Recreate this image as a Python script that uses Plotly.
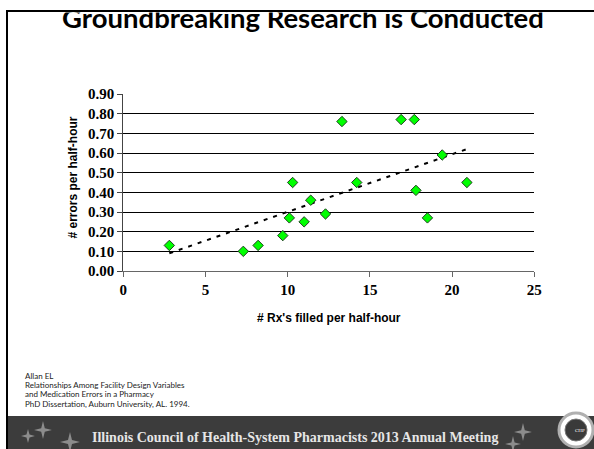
import plotly.graph_objects as go

# ---- data ----
rx_filled = [2.8, 7.3, 8.2, 9.7, 10.1, 10.3, 11.0, 11.4, 12.3, 13.3, 14.2, 16.9, 17.7, 17.8, 18.5, 19.4, 20.9]
errors = [0.13, 0.10, 0.13, 0.18, 0.27, 0.45, 0.25, 0.36, 0.29, 0.76, 0.45, 0.77, 0.77, 0.41, 0.27, 0.59, 0.45]
trend_x = [2.8, 20.9]
trend_y = [0.09, 0.62]

title_text = "Groundbreaking Research is Conducted"
x_title = "# Rx's filled per half-hour"
y_title = "# errors per half-hour"
citation = [
    "Allan EL",
    "Relationships Among Facility Design Variables",
    "and Medication Errors in a Pharmacy",
    "PhD Dissertation, Auburn University, AL. 1994.",
]
footer_text = "Illinois Council of Health-System Pharmacists 2013 Annual Meeting"

W, H = 594, 449


def fx(p):
    return p / W


def fy(p):
    return 1 - p / H


fig = go.Figure()

fig.add_trace(go.Scatter(
    x=trend_x, y=trend_y, mode="lines",
    line=dict(color="black", width=2, dash="4px,6px"),
    hoverinfo="skip",
))
fig.add_trace(go.Scatter(
    x=rx_filled, y=errors, mode="markers",
    marker=dict(symbol="diamond", size=8, color="#00FF00",
                line=dict(color="#1f3f1f", width=1)),
))

# title in a top strip so its top is clipped like the reference
fig.add_trace(go.Scatter(
    x=[303 / W], y=[(60 - 21) / 47.5], mode="text", text=[title_text],
    textposition="middle center", cliponaxis=True,
    textfont=dict(family="Lato", size=27.5, color="black", weight="bold"),
    xaxis="x2", yaxis="y2", hoverinfo="skip",
))

tickfont = dict(family="Liberation Serif", size=15, color="black", weight="bold")

fig.update_layout(
    width=W, height=H,
    margin=dict(l=0, r=0, t=0, b=0),
    paper_bgcolor="white", plot_bgcolor="white",
    showlegend=False,
    xaxis=dict(
        domain=[fx(123.3), fx(534.3)], range=[0, 25], tick0=0, dtick=5,
        showgrid=False, zeroline=False, showline=True, linecolor="#666",
        linewidth=1, ticks="outside", ticklen=5, tickcolor="#666",
        tickfont=tickfont, automargin=False, fixedrange=True,
    ),
    yaxis=dict(
        domain=[fy(271), fy(94)], range=[0, 0.9], tick0=0, dtick=0.1,
        tickformat=".2f", showgrid=True, gridcolor="black", gridwidth=1,
        zeroline=False, showline=True, linecolor="#444", linewidth=1,
        ticks="outside", ticklen=5, tickcolor="#444",
        tickfont=tickfont, automargin=False, fixedrange=True,
    ),
    xaxis2=dict(domain=[0, 1], range=[0, 1], visible=False, anchor="y2", fixedrange=True),
    yaxis2=dict(domain=[fy(60), fy(12.5)], range=[0, 1], visible=False, anchor="x2", fixedrange=True),
)

annotations = [
    dict(text=x_title, x=fx(329), y=fy(318), xref="paper", yref="paper",
         xanchor="center", yanchor="middle", showarrow=False,
         font=dict(family="Liberation Sans", size=12, color="black", weight="bold")),
    dict(text=y_title, x=fx(72.5), y=fy(178), xref="paper", yref="paper",
         xanchor="center", yanchor="middle", textangle=-90, showarrow=False,
         font=dict(family="Liberation Sans", size=12, color="black", weight="bold")),
    dict(text=footer_text, x=fx(295), y=fy(437), xref="paper", yref="paper",
         xanchor="center", yanchor="middle", showarrow=False,
         font=dict(family="Liberation Serif", size=14, color="#e6e6e6", weight="bold")),
    dict(text="CHP", x=fx(580), y=fy(430), xref="paper", yref="paper",
         xanchor="center", yanchor="middle", showarrow=False,
         font=dict(family="Liberation Serif", size=5, color="white")),
]
for i, line in enumerate(citation):
    annotations.append(dict(
        text=line, x=fx(23), y=fy(376 + 9.2 * i), xref="paper", yref="paper",
        xanchor="left", yanchor="middle", showarrow=False,
        font=dict(family="Lato", size=8, color="#222"),
    ))
fig.update_layout(annotations=annotations)


def star(cx, cy, a, w):
    pts = [(cx, cy - a), (cx + w, cy - w), (cx + a, cy), (cx + w, cy + w),
           (cx, cy + a), (cx - w, cy + w), (cx - a, cy), (cx - w, cy - w)]
    d = "M " + " L ".join(f"{fx(px):.5f},{fy(py):.5f}" for px, py in pts) + " Z"
    return dict(type="path", path=d, xref="paper", yref="paper",
                fillcolor="#8c8c8c", line=dict(width=0), layer="above")


shapes = [
    # footer band
    dict(type="rect", xref="paper", yref="paper", x0=fx(7), x1=1, y0=0, y1=fy(416),
         fillcolor="#3c3c3c", line=dict(width=0), layer="below"),
    # slide frame
    dict(type="line", xref="paper", yref="paper", x0=fx(6), x1=1, y0=fy(11), y1=fy(11),
         line=dict(color="black", width=2)),
    dict(type="line", xref="paper", yref="paper", x0=fx(7), x1=fx(7), y0=fy(10), y1=0,
         line=dict(color="black", width=2)),
    star(28, 436, 7, 1.5),
    star(43, 430, 9, 1.8),
    star(70, 442, 10, 2),
    star(523, 432, 9, 1.8),
    star(513, 444, 8, 1.6),
    # logo
    dict(type="circle", xref="paper", yref="paper", x0=fx(559), x1=fx(593),
         y0=fy(447), y1=fy(413), fillcolor="white", line=dict(color="#b0b0b0", width=3)),
    dict(type="circle", xref="paper", yref="paper", x0=fx(565), x1=fx(587),
         y0=fy(441), y1=fy(419), fillcolor="#3a3a3a", line=dict(color="#777", width=1)),
]
fig.update_layout(shapes=shapes)

fig.write_html(
    "out.html",
    config={"displayModeBar": False, "staticPlot": True},
    post_script="document.body.style.margin='0';document.body.style.overflow='hidden';",
)
